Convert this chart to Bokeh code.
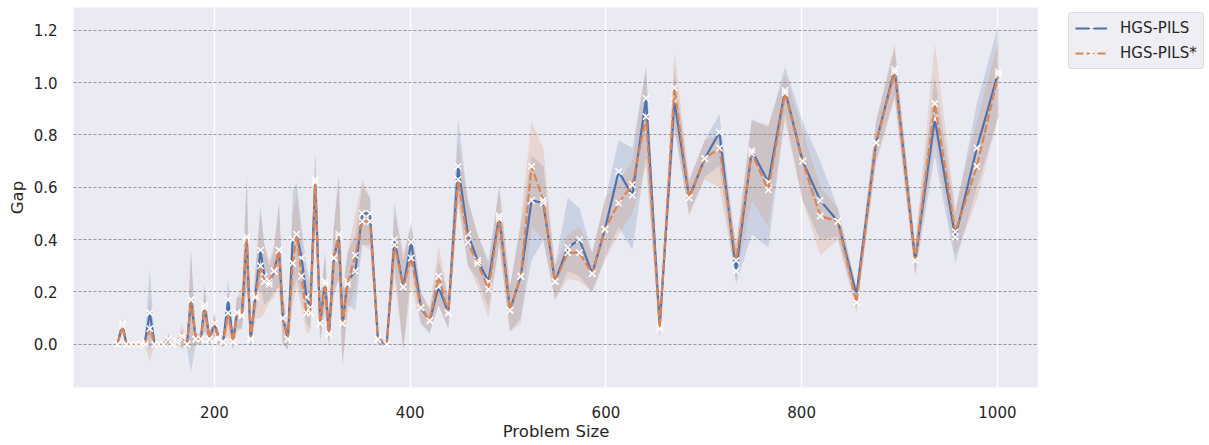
from bokeh.plotting import figure
from bokeh.layouts import row
from bokeh.models import Range1d, FixedTicker, PrintfTickFormatter, Legend, LegendItem, ColumnDataSource
from bokeh.embed import file_html
from bokeh.resources import INLINE

problem_size = [101, 106, 110, 115, 120, 125, 129, 134, 139, 143,
                148, 153, 157, 162, 167, 172, 176, 181, 186, 190,
                195, 200, 204, 209, 214, 219, 223, 228, 233, 237,
                242, 247, 251, 256, 261, 266, 270, 275, 280, 284,
                289, 294, 298, 303, 308, 313, 317, 322, 327, 331,
                336, 344, 351, 359, 367, 376, 384, 393, 401, 411,
                420, 429, 439, 449, 459, 469, 480, 491, 502, 513,
                524, 536, 548, 561, 573, 586, 599, 613, 627, 641,
                655, 670, 685, 701, 716, 733, 749, 766, 783, 801,
                819, 837, 856, 876, 895, 916, 936, 957, 979, 1001]

hgs_pils = [0.00, 0.08, 0.00, 0.00, 0.00, 0.00, 0.01, 0.12, 0.00, 0.00,
            0.00, 0.02, 0.00, 0.01, 0.02, 0.00, 0.17, 0.02, 0.02, 0.15,
            0.02, 0.08, 0.03, 0.01, 0.17, 0.01, 0.12, 0.11, 0.40, 0.02,
            0.19, 0.36, 0.26, 0.23, 0.28, 0.36, 0.10, 0.02, 0.40, 0.42,
            0.33, 0.18, 0.14, 0.63, 0.08, 0.24, 0.04, 0.33, 0.41, 0.08,
            0.24, 0.28, 0.50, 0.50, 0.02, 0.00, 0.40, 0.22, 0.39, 0.14,
            0.09, 0.22, 0.12, 0.68, 0.42, 0.32, 0.24, 0.49, 0.13, 0.26,
            0.55, 0.54, 0.24, 0.37, 0.40, 0.27, 0.44, 0.66, 0.57, 0.94,
            0.07, 0.93, 0.56, 0.71, 0.81, 0.28, 0.74, 0.62, 0.97, 0.70,
            0.55, 0.47, 0.19, 0.77, 1.05, 0.32, 0.86, 0.41, 0.75, 1.04]
hgs_pils_lo = [0.00, 0.05, 0.00, 0.00, 0.00, 0.00, -0.01, -0.02, 0.00, 0.00,
               0.00, 0.00, 0.00, 0.00, -0.01, -0.01, -0.11, 0.00, 0.00, 0.05,
               0.00, 0.03, 0.00, -0.01, 0.08, -0.02, 0.06, 0.06, 0.22, -0.01,
               0.12, 0.22, 0.15, 0.17, 0.20, 0.22, 0.00, -0.02, 0.20, 0.25,
               0.18, 0.08, 0.06, 0.45, 0.02, 0.14, 0.00, 0.20, 0.25, -0.08,
               0.15, 0.13, 0.38, 0.38, 0.00, -0.01, 0.30, -0.02, 0.30, 0.08,
               0.04, 0.15, 0.06, 0.55, 0.30, 0.25, 0.14, 0.38, 0.05, 0.10,
               0.32, 0.40, 0.17, 0.28, 0.26, 0.20, 0.33, 0.45, 0.36, 0.72,
               0.03, 0.82, 0.50, 0.64, 0.68, 0.23, 0.42, 0.37, 0.88, 0.55,
               0.40, 0.41, 0.14, 0.70, 0.95, 0.27, 0.72, 0.31, 0.60, 0.87]
hgs_pils_hi = [0.00, 0.10, 0.00, 0.00, 0.00, 0.00, 0.03, 0.29, 0.00, 0.00,
               0.00, 0.04, 0.00, 0.02, 0.05, 0.01, 0.36, 0.04, 0.04, 0.23,
               0.04, 0.12, 0.05, 0.03, 0.25, 0.04, 0.18, 0.18, 0.63, 0.05,
               0.28, 0.53, 0.38, 0.30, 0.36, 0.54, 0.20, 0.05, 0.58, 0.62,
               0.45, 0.30, 0.24, 0.73, 0.15, 0.35, 0.10, 0.45, 0.64, 0.20,
               0.35, 0.42, 0.60, 0.56, 0.03, 0.01, 0.54, 0.32, 0.47, 0.20,
               0.13, 0.32, 0.18, 0.86, 0.55, 0.42, 0.32, 0.60, 0.22, 0.45,
               0.72, 0.68, 0.30, 0.56, 0.52, 0.35, 0.55, 0.78, 0.75, 1.06,
               0.10, 1.05, 0.62, 0.78, 0.88, 0.37, 0.86, 0.83, 1.06, 0.85,
               0.70, 0.52, 0.22, 0.85, 1.13, 0.38, 1.02, 0.50, 0.92, 1.22]

hgs_pils_star = [0.00, 0.07, 0.00, 0.00, 0.00, 0.00, 0.00, 0.06, 0.00, 0.00,
                 0.00, 0.02, 0.00, 0.01, 0.03, 0.00, 0.17, 0.02, 0.02, 0.14,
                 0.02, 0.08, 0.02, 0.01, 0.12, 0.01, 0.12, 0.11, 0.41, 0.02,
                 0.18, 0.30, 0.24, 0.24, 0.28, 0.36, 0.10, 0.02, 0.31, 0.42,
                 0.26, 0.12, 0.12, 0.62, 0.08, 0.23, 0.04, 0.33, 0.42, 0.08,
                 0.23, 0.34, 0.47, 0.47, 0.02, 0.00, 0.38, 0.22, 0.33, 0.14,
                 0.09, 0.26, 0.12, 0.63, 0.39, 0.31, 0.21, 0.48, 0.13, 0.26,
                 0.68, 0.55, 0.24, 0.35, 0.35, 0.27, 0.44, 0.54, 0.61, 0.87,
                 0.06, 0.98, 0.56, 0.71, 0.75, 0.32, 0.73, 0.59, 0.96, 0.70,
                 0.49, 0.47, 0.16, 0.77, 1.04, 0.32, 0.92, 0.43, 0.68, 1.03]
hgs_pils_star_lo = [0.00, 0.04, 0.00, 0.00, 0.00, 0.00, 0.00, -0.07, 0.00, 0.00,
                    0.00, 0.00, 0.00, 0.00, -0.02, -0.01, -0.02, 0.00, 0.00, 0.05,
                    0.00, 0.03, 0.00, -0.01, 0.03, -0.02, 0.05, 0.06, 0.22, -0.01,
                    0.10, 0.10, 0.12, 0.16, 0.18, 0.22, 0.00, -0.02, 0.15, 0.22,
                    0.14, 0.04, 0.05, 0.45, 0.01, 0.12, -0.01, 0.18, 0.25, -0.08,
                    0.12, 0.22, 0.38, 0.36, 0.00, -0.01, 0.25, -0.02, 0.22, 0.08,
                    0.05, 0.15, 0.06, 0.55, 0.30, 0.22, 0.10, 0.38, 0.05, 0.08,
                    0.45, 0.40, 0.17, 0.25, 0.24, 0.20, 0.32, 0.42, 0.50, 0.68,
                    0.03, 0.83, 0.49, 0.63, 0.60, 0.25, 0.55, 0.45, 0.85, 0.55,
                    0.34, 0.40, 0.12, 0.69, 0.94, 0.26, 0.78, 0.34, 0.55, 0.87]
hgs_pils_star_hi = [0.00, 0.09, 0.00, 0.00, 0.00, 0.00, 0.01, 0.18, 0.00, 0.00,
                    0.00, 0.04, 0.00, 0.02, 0.08, 0.01, 0.36, 0.04, 0.04, 0.22,
                    0.04, 0.12, 0.04, 0.03, 0.20, 0.04, 0.18, 0.22, 0.65, 0.06,
                    0.30, 0.50, 0.38, 0.32, 0.38, 0.54, 0.20, 0.05, 0.50, 0.58,
                    0.40, 0.25, 0.22, 0.74, 0.16, 0.35, 0.10, 0.45, 0.64, 0.20,
                    0.35, 0.50, 0.63, 0.56, 0.03, 0.01, 0.50, 0.35, 0.45, 0.20,
                    0.14, 0.38, 0.18, 0.77, 0.55, 0.42, 0.30, 0.60, 0.22, 0.48,
                    0.85, 0.75, 0.30, 0.42, 0.45, 0.35, 0.56, 0.62, 0.70, 1.06,
                    0.09, 1.12, 0.63, 0.78, 0.80, 0.38, 0.85, 0.84, 1.03, 0.82,
                    0.60, 0.52, 0.21, 0.85, 1.15, 0.38, 1.15, 0.52, 0.85, 1.16]

series_names = ["HGS-PILS", "HGS-PILS*"]
series_colors = ["#4C72B0", "#DD8452"]
x_ticks = [200, 400, 600, 800, 1000]
y_ticks = [0.0, 0.2, 0.4, 0.6, 0.8, 1.0, 1.2]

FONT = "DejaVu Sans"
TXT = "#262626"
LINE_W = 2.2
DASH = "8 3"

p = figure(width=1038, height=445, output_backend="svg", toolbar_location=None,
           x_range=Range1d(56, 1042), y_range=Range1d(-0.165, 1.287),
           min_border_left=73, min_border_right=0, min_border_top=7, min_border_bottom=58)
p.background_fill_color = "#EAEAF2"
p.border_fill_color = "white"
p.outline_line_color = None

src = ColumnDataSource(dict(x=problem_size, a=hgs_pils, alo=hgs_pils_lo, ahi=hgs_pils_hi,
                            b=hgs_pils_star, blo=hgs_pils_star_lo, bhi=hgs_pils_star_hi))

p.varea(x="x", y1="alo", y2="ahi", source=src, fill_color=series_colors[0], fill_alpha=0.2)
p.varea(x="x", y1="blo", y2="bhi", source=src, fill_color=series_colors[1], fill_alpha=0.2)

p.line(x="x", y="a", source=src, line_color=series_colors[0], line_width=LINE_W, line_join="round")
p.scatter(x="x", y="a", source=src, marker="x", size=9, line_color="white", line_width=1.5)
p.line(x="x", y="b", source=src, line_color=series_colors[1], line_width=LINE_W,
       line_dash=DASH, line_join="round")
p.scatter(x="x", y="b", source=src, marker="x", size=9, line_color="white", line_width=1.5)

for ax in (p.xaxis, p.yaxis):
    ax.axis_line_color = None
    ax.major_tick_line_color = None
    ax.minor_tick_line_color = None
    ax.major_tick_out = 0
    ax.major_tick_in = 0
    ax.major_label_text_font = FONT
    ax.major_label_text_font_size = "15px"
    ax.major_label_text_color = TXT
    ax.axis_label_text_font = FONT
    ax.axis_label_text_font_size = "16.5px"
    ax.axis_label_text_color = TXT
    ax.axis_label_text_font_style = "normal"

p.xaxis.ticker = FixedTicker(ticks=x_ticks)
p.yaxis.ticker = FixedTicker(ticks=y_ticks)
p.yaxis.formatter = PrintfTickFormatter(format="%.1f")
p.xaxis.axis_label = "Problem Size"
p.yaxis.axis_label = "Gap"
p.yaxis.major_label_standoff = 16
p.yaxis.axis_label_standoff = 4
p.xaxis.major_label_standoff = 18
p.xaxis.axis_label_standoff = 1

p.xgrid.grid_line_color = "white"
p.xgrid.grid_line_width = 1.4
p.ygrid.grid_line_color = "#8c8c8c"
p.ygrid.grid_line_width = 0.9
p.ygrid.grid_line_dash = "3 2"

# legend panel to the right of the plot area (its ranges keep the series out of view;
# the renderers only provide the legend swatches)
pl = figure(width=171, height=445, output_backend="svg", toolbar_location=None,
            x_axis_location=None, y_axis_location=None,
            x_range=Range1d(-10, -5), y_range=Range1d(-10, -5),
            min_border_left=0, min_border_right=0, min_border_top=0, min_border_bottom=0)
pl.grid.visible = False
pl.outline_line_color = None
pl.background_fill_color = "white"
pl.border_fill_color = "white"

k1 = pl.line(x="x", y="a", source=src, line_color=series_colors[0], line_width=LINE_W)
s1 = pl.scatter(x="x", y="a", source=src, marker="x", size=9, line_color="white", line_width=1.5)
k2 = pl.line(x="x", y="b", source=src, line_color=series_colors[1], line_width=LINE_W, line_dash=DASH)
s2 = pl.scatter(x="x", y="b", source=src, marker="x", size=9, line_color="white", line_width=1.5)

legend = Legend(items=[LegendItem(label=series_names[0], renderers=[k1, s1]),
                       LegendItem(label=series_names[1], renderers=[k2, s2])],
                location=(30, 318))
legend.background_fill_color = "#EEEEF4"
legend.background_fill_alpha = 1.0
legend.border_line_color = "#CCCCCC"
legend.border_line_width = 1
legend.border_radius = 4
legend.label_text_font = FONT
legend.label_text_font_size = "15px"
legend.label_text_color = TXT
legend.glyph_width = 32
legend.glyph_height = 18
legend.label_height = 18
legend.label_standoff = 13
legend.spacing = 7
legend.padding = 6
legend.margin = 0
pl.add_layout(legend)

layout = row(p, pl)
open("out.html", "w").write(file_html(layout, INLINE))
